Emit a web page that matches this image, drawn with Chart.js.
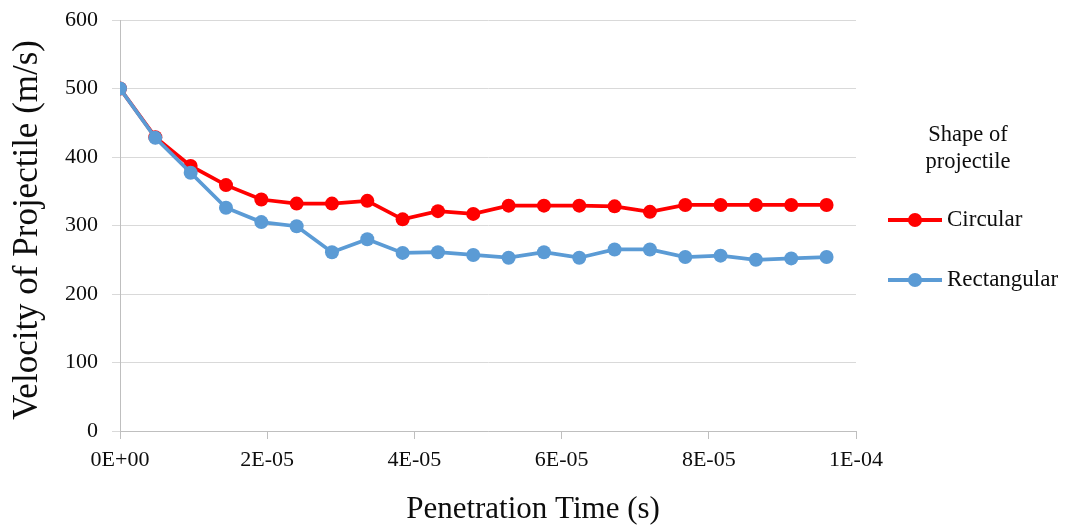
<!DOCTYPE html>
<html>
<head>
<meta charset="utf-8">
<script src="https://cdn.jsdelivr.net/npm/chart.js@4/dist/chart.umd.min.js"></script>
<style>
  html, body { margin: 0; padding: 0; background: #ffffff; }
  #wrap { width: 1073px; height: 525px; }
</style>
</head>
<body>
<div id="wrap"><canvas id="c" width="1073" height="525"></canvas></div>
<script>
// Penetration time samples (s)
const times = [0, 4.8e-6, 9.6e-6, 1.44e-5, 1.92e-5, 2.4e-5, 2.88e-5, 3.36e-5, 3.84e-5, 4.32e-5,
               4.8e-5, 5.28e-5, 5.76e-5, 6.24e-5, 6.72e-5, 7.2e-5, 7.68e-5, 8.16e-5, 8.64e-5, 9.12e-5, 9.6e-5];
// Projectile velocity (m/s) for each shape
const circular    = [500, 429, 387, 359, 338, 332, 332, 336, 309, 321, 317, 329, 329, 329, 328, 320, 330, 330, 330, 330, 330];
const rectangular = [500, 428, 377, 326, 305, 299, 261, 280, 260, 261, 257, 253, 261, 253, 265, 265, 254, 256, 250, 252, 254];
// Axis ticks
const xTickValues = [0, 2e-5, 4e-5, 6e-5, 8e-5, 1e-4];
const xTickLabels = ['0E+00', '2E-05', '4E-05', '6E-05', '8E-05', '1E-04'];
const yTickValues = [0, 100, 200, 300, 400, 500, 600];
// Texts
const xTitle = 'Penetration Time (s)';
const yTitle = 'Velocity of Projectile (m/s)';
const legendTitle = ['Shape of', 'projectile'];
const seriesNames = ['Circular', 'Rectangular'];

const RED = '#ff0000';
const BLUE = '#5b9bd5';
const TEXT = '#0d0d0d';
const SERIF = '"Liberation Serif", "Times New Roman", serif';

function pts(vals) { return vals.map((v, i) => ({ x: times[i], y: v })); }

// Axis titles and the side legend
const decorations = {
  id: 'decorations',
  afterDraw(chart) {
    const ctx = chart.ctx;
    ctx.save();
    ctx.fillStyle = TEXT;

    // x-axis title
    ctx.font = '31px ' + SERIF;
    ctx.textAlign = 'center';
    ctx.textBaseline = 'alphabetic';
    ctx.fillText(xTitle, 533, 518);

    // y-axis title
    ctx.save();
    ctx.translate(28, 230);
    ctx.rotate(-Math.PI / 2);
    ctx.font = '35px ' + SERIF;
    ctx.textAlign = 'center';
    ctx.textBaseline = 'middle';
    ctx.fillText(yTitle, 0, 0);
    ctx.restore();

    // legend title
    ctx.font = '22.5px ' + SERIF;
    ctx.textAlign = 'center';
    ctx.textBaseline = 'middle';
    ctx.fillText(legendTitle[0], 968, 135);
    ctx.fillText(legendTitle[1], 968, 162);

    // legend entries
    const rows = [220, 280];
    chart.data.datasets.forEach((ds, i) => {
      const y = rows[i];
      ctx.strokeStyle = ds.borderColor;
      ctx.lineWidth = 4;
      ctx.beginPath();
      ctx.moveTo(888, y);
      ctx.lineTo(942, y);
      ctx.stroke();
      ctx.fillStyle = ds.pointBackgroundColor;
      ctx.beginPath();
      ctx.arc(915, y, 7, 0, Math.PI * 2);
      ctx.fill();
      ctx.fillStyle = TEXT;
      ctx.font = '23px ' + SERIF;
      ctx.textAlign = 'left';
      ctx.textBaseline = 'middle';
      ctx.fillText(ds.label, 947, y);
    });
    ctx.restore();
  }
};

new Chart(document.getElementById('c'), {
  type: 'line',
  data: {
    datasets: [
      {
        label: seriesNames[0], data: pts(circular), order: 1,
        borderColor: RED, backgroundColor: RED, pointBackgroundColor: RED, pointBorderColor: RED,
        borderWidth: 3.75, pointRadius: 7, pointBorderWidth: 0, tension: 0
      },
      {
        label: seriesNames[1], data: pts(rectangular), order: 0,
        borderColor: BLUE, backgroundColor: BLUE, pointBackgroundColor: BLUE, pointBorderColor: BLUE,
        borderWidth: 3.75, pointRadius: 7, pointBorderWidth: 0, tension: 0
      }
    ]
  },
  options: {
    responsive: false,
    animation: false,
    devicePixelRatio: 1,
    layout: { padding: { left: 0, right: 217, top: 0, bottom: 0 } },
    plugins: { legend: { display: false }, tooltip: { enabled: false } },
    scales: {
      x: {
        type: 'linear', min: 0, max: 1e-4,
        afterBuildTicks: s => { s.ticks = xTickValues.map(v => ({ value: v })); },
        afterFit: s => { s.height = 94; },
        grid: { drawOnChartArea: false, drawTicks: true, tickLength: 8, color: '#bfbfbf' },
        border: { color: '#bfbfbf', width: 1 },
        ticks: {
          callback: (v, i) => xTickLabels[i],
          font: { family: SERIF, size: 22 }, color: TEXT, padding: 8,
          maxRotation: 0, autoSkip: false
        }
      },
      y: {
        min: 0, max: 600,
        afterBuildTicks: s => { s.ticks = yTickValues.map(v => ({ value: v })); },
        afterFit: s => { s.width = 120; },
        grid: { color: '#d9d9d9', tickLength: 8 },
        border: { color: '#bfbfbf', width: 1 },
        ticks: { font: { family: SERIF, size: 22, lineHeight: 0.55 }, color: TEXT, padding: 14 }
      }
    }
  },
  plugins: [decorations]
});
</script>
</body>
</html>
